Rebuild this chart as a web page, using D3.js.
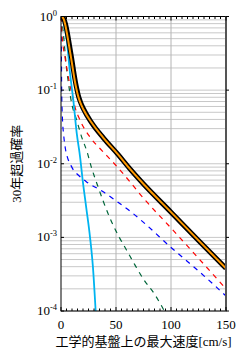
<!DOCTYPE html>
<html>
<head>
<meta charset="utf-8">
<script src="https://cdn.jsdelivr.net/npm/d3@7"></script>
<style>
body { margin: 0; background: #fff; }
text { font-family: "Liberation Serif", "Noto Sans CJK JP", serif; fill: #000; }
</style>
</head>
<body>
<svg id="chart" width="247" height="357"></svg>
<script>
let margin = {top: 16.5, bottom: 46, left: 61, right: 21};
let svgWidth = 247;
let svgHeight = 357;
let width = svgWidth - margin.left - margin.right;
let height = svgHeight - margin.top - margin.bottom;

let xTicks = [0, 50, 100, 150];
let yTicks = [1e-4, 1e-3, 1e-2, 1e-1, 1];
let yExp = ['-4', '-3', '-2', '-1', '0'];
let xTitle = '工学的基盤上の最大速度[cm/s]';
let yTitle = '30年超過確率';

// [velocity, probability]
let total = [[0,1],[2,0.96],[4,0.8],[5.5,0.63],[6.7,0.5],[9.7,0.27],[12.7,0.14],[14,0.11],[15.7,0.085],[17.5,0.07],[20.3,0.056],[27.9,0.036],[38.5,0.0225],[52,0.0133],[62.7,0.0085],[75,0.0053],[100,0.0022],[125,0.00091],[150,0.00038]];
let inner = [[0,1],[2,0.95],[4,0.76],[5.5,0.58],[6.7,0.46],[9.7,0.245],[12.7,0.13],[14,0.104],[15.7,0.082],[17.5,0.068],[20.3,0.055],[27.9,0.036],[38.5,0.0225],[52,0.0133],[62.7,0.0085],[75,0.0053],[100,0.0022],[125,0.00091],[150,0.00038]];
let cyan = [[0,1],[1.5,0.93],[3,0.75],[5.2,0.48],[8.2,0.17],[11.2,0.073],[14.3,0.026],[17.3,0.0125],[19.7,0.006],[23,0.0025],[26.4,0.001],[29,0.0004],[31.5,0.0001]];
let red = [[0,1],[0.5,0.7],[1.5,0.45],[3.6,0.28],[6.7,0.15],[9.7,0.091],[13,0.057],[17.3,0.039],[26.4,0.023],[37,0.0152],[47.5,0.0104],[58,0.0069],[75,0.0034],[100,0.00134],[125,0.00052],[150,0.0002]];
let blue = [[0,1],[0.3,0.4],[0.6,0.1],[1.2,0.045],[2.5,0.024],[4,0.016],[6,0.012],[9,0.0095],[12.4,0.0078],[14,0.0074],[23,0.0057],[38,0.0042],[51.8,0.003],[64,0.0022],[75,0.0016],[100,0.00073],[125,0.00035],[150,0.00016]];
let green = [[0,1],[1,0.85],[2,0.62],[3.3,0.38],[5,0.2],[6.6,0.13],[9.7,0.066],[14.3,0.039],[18.8,0.023],[23.4,0.015],[27.9,0.0087],[33.6,0.0049],[44,0.0019],[53,0.001],[59.4,0.00068],[67.3,0.00042],[75,0.00027],[85,0.00017],[94,0.0001]];

let xScale = d3.scaleLinear().domain([0, 150]).range([0, width]);
let yScale = d3.scaleLog().domain([1e-4, 1]).range([height, 0]);

let svg = d3.select('#chart').append('g').attr('transform', `translate(${margin.left},${margin.top})`);

svg.append('defs').append('clipPath').attr('id', 'clip')
    .append('rect').attr('width', width).attr('height', height);

// grid
let minor = [];
for (let e = -4; e < 0; e++) for (let m = 1; m < 10; m++) minor.push(m * Math.pow(10, e));
svg.append('g').selectAll('line').data(minor).enter().append('line')
    .attr('x1', 0).attr('x2', width)
    .attr('y1', d => yScale(d)).attr('y2', d => yScale(d))
    .attr('stroke', '#c8c8c8').attr('stroke-width', 1);
svg.append('g').selectAll('line').data([50, 100]).enter().append('line')
    .attr('x1', d => xScale(d)).attr('x2', d => xScale(d))
    .attr('y1', 0).attr('y2', height)
    .attr('stroke', '#b4b4b4').attr('stroke-width', 1);

// curves
let line = d3.line().x(d => xScale(d[0])).y(d => yScale(d[1])).curve(d3.curveMonotoneX);
let curves = svg.append('g').attr('clip-path', 'url(#clip)');
curves.append('path').datum(green).attr('d', line).attr('fill', 'none')
    .attr('stroke', '#00663a').attr('stroke-width', 1.2).attr('stroke-dasharray', '5,5');
curves.append('path').datum(blue).attr('d', line).attr('fill', 'none')
    .attr('stroke', '#0000ff').attr('stroke-width', 1.2).attr('stroke-dasharray', '5,5');
curves.append('path').datum(red).attr('d', line).attr('fill', 'none')
    .attr('stroke', '#ff0000').attr('stroke-width', 1.2).attr('stroke-dasharray', '5,5');
curves.append('path').datum(cyan).attr('d', line).attr('fill', 'none')
    .attr('stroke', '#00b4f0').attr('stroke-width', 1.8);
curves.append('path').datum(total).attr('d', line).attr('fill', 'none')
    .attr('stroke', '#000').attr('stroke-width', 5);
curves.append('path').datum(inner).attr('d', line).attr('fill', 'none')
    .attr('stroke', '#ff9900').attr('stroke-width', 2);

// frame and ticks
svg.append('rect').attr('width', width).attr('height', height)
    .attr('fill', 'none').attr('stroke', '#000').attr('stroke-width', 1);
svg.append('line').attr('x1', width).attr('x2', width).attr('y1', 0).attr('y2', height)
    .attr('stroke', '#555').attr('stroke-width', 2);
let xm = d3.range(0, 151, 5);
svg.append('g').selectAll('line').data(xm).enter().append('line')
    .attr('x1', d => xScale(d)).attr('x2', d => xScale(d))
    .attr('y1', 0).attr('y2', d => d % 50 === 0 ? 4 : 2.5)
    .attr('stroke', '#000');
svg.append('g').selectAll('line').data(xm).enter().append('line')
    .attr('x1', d => xScale(d)).attr('x2', d => xScale(d))
    .attr('y1', height).attr('y2', d => d % 50 === 0 ? height - 4 : height - 2.5)
    .attr('stroke', '#000');
svg.append('g').selectAll('line').data(yTicks).enter().append('line')
    .attr('x1', width).attr('x2', width + 3)
    .attr('y1', d => yScale(d)).attr('y2', d => yScale(d))
    .attr('stroke', '#000');
svg.append('g').selectAll('line').data(yTicks).enter().append('line')
    .attr('x1', 0).attr('x2', 3)
    .attr('y1', d => yScale(d)).attr('y2', d => yScale(d))
    .attr('stroke', '#000');

// tick labels
svg.append('g').selectAll('text').data(xTicks).enter().append('text')
    .attr('x', d => xScale(d)).attr('y', height + 18)
    .attr('text-anchor', 'middle').attr('font-size', '13px')
    .text(d => d);
let yl = svg.append('g').selectAll('text').data(yTicks).enter().append('text')
    .attr('x', -4).attr('y', d => yScale(d) + 4)
    .attr('text-anchor', 'end').attr('font-size', '13px');
yl.append('tspan').text('10');
yl.append('tspan').attr('dy', -5).attr('font-size', '8.5px').text((d, i) => yExp[i]);

// titles
svg.append('text').attr('x', width / 2).attr('y', height + 35)
    .attr('text-anchor', 'middle').attr('font-size', '13px').text(xTitle);
svg.append('text').attr('transform', `translate(${-40},${height / 2}) rotate(-90)`)
    .attr('text-anchor', 'middle').attr('font-size', '13px').text(yTitle);
</script>
</body>
</html>
